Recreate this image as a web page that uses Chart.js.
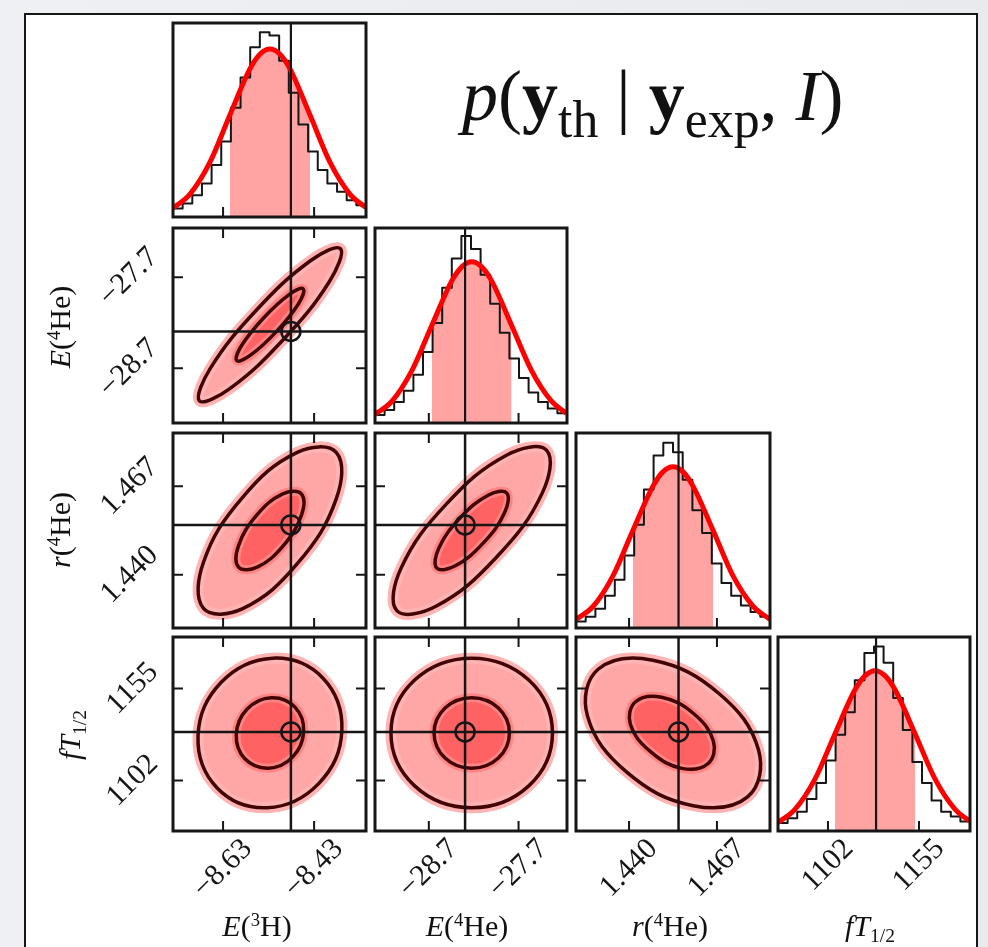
<!DOCTYPE html>
<html>
<head>
<meta charset="utf-8">
<script src="https://cdn.jsdelivr.net/npm/chart.js@4.4.1/dist/chart.umd.min.js"></script>
<style>
  html, body { margin: 0; padding: 0; }
  body { width: 988px; height: 947px; position: relative; overflow: hidden;
         background: linear-gradient(90deg, #eef0f3 0%, #e8eaee 100%);
         font-family: "Liberation Serif", "DejaVu Serif", serif; color: #111; }
  #sheet { position: absolute; left: 24px; top: 13px; width: 954px; height: 960px;
           background: #fff; border: 2px solid #161616; box-sizing: border-box; }
  #plots canvas { position: absolute; left: 0; top: 0; }
  .axt { position: absolute; font-size: 30px; white-space: nowrap; line-height: 1;
         transform: translate(-50%, -50%); }
  .axt.rot { transform: translate(-50%, -50%) rotate(-90deg); }
  .axt sup { font-size: 0.62em; vertical-align: baseline; position: relative; top: -0.55em; }
  .axt sub { font-size: 0.65em; vertical-align: baseline; position: relative; top: 0.3em; }
  #title { position: absolute; left: 462px; top: 60px; font-size: 72px; line-height: 1; white-space: nowrap; }
  #title sub { font-size: 0.72em; vertical-align: baseline; position: relative; top: 0.33em; }
</style>
</head>
<body>
<div id="sheet"></div>
<div id="plots"></div>
<div id="title"><i>p</i>(<b>y</b><sub>th</sub> | <b>y</b><sub>exp</sub>, <i>I</i>)</div>
<div class="axt" style="left:257px;top:926px"><i>E</i>(<sup>3</sup>H)</div>
<div class="axt" style="left:467px;top:926px"><i>E</i>(<sup>4</sup>He)</div>
<div class="axt" style="left:670px;top:926px"><i>r</i>(<sup>4</sup>He)</div>
<div class="axt" style="left:870px;top:926px"><i>fT</i><sub>1/2</sub></div>
<div class="axt rot" style="left:60px;top:327px"><i>E</i>(<sup>4</sup>He)</div>
<div class="axt rot" style="left:60px;top:530px"><i>r</i>(<sup>4</sup>He)</div>
<div class="axt rot" style="left:70px;top:735px"><i>fT</i><sub>1/2</sub></div>
<script>
// ---- values ----
// order of variables: E(3H), E(4He), r(4He), fT1/2
const axisMin = [-8.740, -29.30, 1.4237, 1072.9];
const axisMax = [-8.316, -27.16, 1.4833, 1184.7];
const tickValues = [[-8.63, -8.43], [-28.7, -27.7], [1.440, 1.467], [1102, 1155]];
const tickLabels = [['−8.63', '−8.43'], ['−28.7', '−27.7'], ['1.440', '1.467'], ['1102', '1155']];
const expValues = [-8.481, -28.296, 1.4552, 1130.0];

// marginal histograms: 20 equal bins over each axis, heights relative to the red curve peak
const histE3H  = [0.05, 0.08, 0.13, 0.20, 0.31, 0.45, 0.65, 0.83, 1.01, 1.10, 1.08, 0.93, 0.74, 0.55, 0.39, 0.28, 0.20, 0.15, 0.10, 0.07];
const histE4He = [0.05, 0.08, 0.13, 0.20, 0.30, 0.44, 0.62, 0.84, 1.02, 1.16, 1.08, 0.92, 0.74, 0.56, 0.40, 0.28, 0.19, 0.13, 0.09, 0.06];
const histR4He = [0.04, 0.07, 0.12, 0.20, 0.30, 0.45, 0.64, 0.86, 1.07, 1.15, 1.09, 0.92, 0.73, 0.59, 0.40, 0.28, 0.20, 0.14, 0.10, 0.07];
const histFT   = [0.05, 0.08, 0.12, 0.20, 0.30, 0.44, 0.60, 0.74, 0.94, 1.11, 1.15, 1.05, 0.83, 0.63, 0.43, 0.30, 0.19, 0.12, 0.09, 0.06];

// red marginal curves
const curveXE3H  = [-8.740, -8.703, -8.659, -8.615, -8.571, -8.549, -8.527, -8.505, -8.483, -8.439, -8.395, -8.351, -8.316];
const curveYE3H  = [0.053, 0.135, 0.325, 0.607, 0.882, 0.969, 1.0, 0.969, 0.882, 0.607, 0.325, 0.135, 0.056];
const curveXE4He = [-29.300, -29.111, -28.889, -28.666, -28.444, -28.333, -28.222, -28.111, -28.000, -27.778, -27.555, -27.333, -27.166];
const curveYE4He = [0.053, 0.135, 0.325, 0.607, 0.882, 0.969, 1.0, 0.969, 0.882, 0.607, 0.325, 0.135, 0.060];
const curveXR4He = [1.4237, 1.4290, 1.4351, 1.4412, 1.4474, 1.4504, 1.4535, 1.4566, 1.4596, 1.4658, 1.4719, 1.4781, 1.4833];
const curveYR4He = [0.053, 0.135, 0.325, 0.607, 0.882, 0.969, 1.0, 0.969, 0.882, 0.607, 0.325, 0.135, 0.053];
const curveXFT   = [1072.9, 1082.8, 1094.5, 1106.1, 1117.8, 1123.6, 1129.4, 1135.2, 1141.0, 1152.7, 1164.3, 1176.0, 1184.7];
const curveYFT   = [0.053, 0.135, 0.325, 0.607, 0.882, 0.969, 1.0, 0.969, 0.882, 0.607, 0.325, 0.135, 0.060];
// shaded interval under each curve
const shadeLo = [-8.615, -28.666, 1.4412, 1106.1];
const shadeHi = [-8.439, -27.778, 1.4658, 1152.7];
const diagMax = [1.155, 1.21, 1.21, 1.21];

// 2D contours (outer and inner level), points read around each outline
const contE3H_E4He_out = [[-8.372, -27.387], [-8.438, -27.519], [-8.557, -28.063], [-8.658, -28.700], [-8.682, -29.057], [-8.616, -28.925], [-8.497, -28.381], [-8.396, -27.744]];
const contE3H_E4He_in  = [[-8.454, -27.829], [-8.485, -27.891], [-8.541, -28.147], [-8.589, -28.447], [-8.600, -28.615], [-8.569, -28.553], [-8.513, -28.297], [-8.465, -27.997]];
const contE3H_R4He_out = [[-8.381, 1.4773], [-8.467, 1.4774], [-8.588, 1.4635], [-8.673, 1.4438], [-8.673, 1.4297], [-8.587, 1.4296], [-8.466, 1.4435], [-8.381, 1.4633]];
const contE3H_R4He_in  = [[-8.458, 1.4647], [-8.499, 1.4647], [-8.556, 1.4582], [-8.596, 1.4489], [-8.596, 1.4423], [-8.555, 1.4423], [-8.498, 1.4488], [-8.458, 1.4581]];
const contE4He_R4He_out = [[-27.387, 1.4780], [-27.829, 1.4766], [-28.500, 1.4617], [-29.009, 1.4420], [-29.057, 1.4290], [-28.615, 1.4304], [-27.944, 1.4454], [-27.435, 1.4650]];
const contE4He_R4He_in  = [[-27.833, 1.4650], [-28.039, 1.4643], [-28.352, 1.4573], [-28.589, 1.4481], [-28.611, 1.4420], [-28.405, 1.4427], [-28.092, 1.4497], [-27.856, 1.4589]];
const contE3H_FT_out = [[-8.411, 1161.1], [-8.521, 1172.5], [-8.634, 1158.6], [-8.685, 1127.7], [-8.643, 1097.7], [-8.533, 1086.3], [-8.420, 1100.2], [-8.369, 1131.1]];
const contE3H_FT_in  = [[-8.472, 1144.3], [-8.524, 1149.7], [-8.577, 1143.2], [-8.601, 1128.6], [-8.582, 1114.5], [-8.530, 1109.1], [-8.477, 1115.6], [-8.453, 1130.2]];
const contE4He_FT_out = [[-27.586, 1159.9], [-28.222, 1172.5], [-28.858, 1159.9], [-29.122, 1129.4], [-28.858, 1098.9], [-28.222, 1086.3], [-27.586, 1098.9], [-27.322, 1129.4]];
const contE4He_FT_in  = [[-27.925, 1143.8], [-28.222, 1149.7], [-28.519, 1143.8], [-28.642, 1129.4], [-28.519, 1115.0], [-28.222, 1109.1], [-27.925, 1115.0], [-27.802, 1129.4]];
const contR4He_FT_out = [[1.4677, 1152.0], [1.4473, 1171.3], [1.4305, 1166.1], [1.4272, 1139.4], [1.4393, 1106.8], [1.4597, 1087.5], [1.4765, 1092.7], [1.4798, 1119.4]];
const contR4He_FT_in  = [[1.4598, 1140.6], [1.4500, 1150.0], [1.4420, 1147.4], [1.4404, 1134.4], [1.4466, 1118.6], [1.4562, 1109.0], [1.4643, 1111.8], [1.4659, 1124.7]];

// ---- layout of the panel grid (pixels) ----
const colLeft = [173, 375, 576, 778];
const colRight = [366, 567, 770, 970];
const rowTop = [23, 228, 433, 637];
const rowBottom = [217, 423, 628, 831];
const W = 988, H = 947;

const ink = '#161616';

// frame, inward ticks and rotated tick labels
const decor = {
  id: 'decor',
  afterDraw(chart, args, o) {
    const {ctx, chartArea: a} = chart;
    const xs = chart.scales.x, ys = chart.scales.y;
    const T = 10;
    ctx.save();
    ctx.strokeStyle = ink;
    ctx.lineWidth = 2;
    ctx.beginPath();
    o.xTicks.forEach(v => {
      const p = xs.getPixelForValue(v);
      ctx.moveTo(p, a.bottom); ctx.lineTo(p, a.bottom - T);
      if (!o.diag) { ctx.moveTo(p, a.top); ctx.lineTo(p, a.top + T); }
    });
    o.yTicks.forEach(v => {
      const p = ys.getPixelForValue(v);
      ctx.moveTo(a.left, p); ctx.lineTo(a.left + T, p);
      ctx.moveTo(a.right, p); ctx.lineTo(a.right - T, p);
    });
    ctx.stroke();
    ctx.lineWidth = 3;
    ctx.strokeRect(a.left, a.top, a.right - a.left, a.bottom - a.top);

    ctx.fillStyle = ink;
    ctx.font = '30px "Liberation Serif"';
    ctx.textAlign = 'center';
    ctx.textBaseline = 'middle';
    const th = 21;
    const rot = (txt, cx, cy) => {
      ctx.save(); ctx.translate(cx, cy); ctx.rotate(-Math.PI / 4);
      ctx.fillText(txt, 0, 0); ctx.restore();
    };
    if (o.xLabels.length) o.xTicks.forEach((v, k) => {
      const s = (ctx.measureText(o.xLabels[k]).width + th) / Math.SQRT2;
      rot(o.xLabels[k], xs.getPixelForValue(v), a.bottom + 6 + s / 2);
    });
    if (o.yLabels.length) o.yTicks.forEach((v, k) => {
      const s = (ctx.measureText(o.yLabels[k]).width + th) / Math.SQRT2;
      rot(o.yLabels[k], a.left - 12 - s / 2, ys.getPixelForValue(v));
    });
    ctx.restore();
  }
};
Chart.register(decor);

function newCanvas() {
  const c = document.createElement('canvas');
  c.width = W; c.height = H;
  document.getElementById('plots').appendChild(c);
  return c;
}

function options(col, row, yMin, yMax, deco) {
  return {
    responsive: false, animation: false, devicePixelRatio: 1, events: [],
    layout: { padding: { left: colLeft[col], top: rowTop[row], right: W - colRight[col], bottom: H - rowBottom[row] } },
    elements: { point: { radius: 0 }, line: { borderJoinStyle: 'round' } },
    scales: {
      x: { type: 'linear', display: false, min: axisMin[col], max: axisMax[col] },
      y: { type: 'linear', display: false, min: yMin, max: yMax }
    },
    plugins: { legend: { display: false }, tooltip: { enabled: false }, decor: deco }
  };
}

// diagonal panels
const hists = [histE3H, histE4He, histR4He, histFT];
const curvesX = [curveXE3H, curveXE4He, curveXR4He, curveXFT];
const curvesY = [curveYE3H, curveYE4He, curveYR4He, curveYFT];

for (let i = 0; i < 4; i++) {
  const hist = hists[i];
  const bw = (axisMax[i] - axisMin[i]) / hist.length;
  const histPts = [];
  for (let k = 0; k <= hist.length; k++) {
    histPts.push({x: axisMin[i] + k * bw, y: hist[Math.min(k, hist.length - 1)]});
  }
  const curve = curvesX[i].map((x, k) => ({x: x, y: curvesY[i][k]}));
  const shade = curve.filter(p => p.x >= shadeLo[i] && p.x <= shadeHi[i]);
  new Chart(newCanvas(), {
    type: 'line',
    data: { datasets: [
      { data: [{x: expValues[i], y: 0}, {x: expValues[i], y: diagMax[i]}], borderColor: ink, borderWidth: 2.2, order: 0 },
      { data: curve, borderColor: '#ff0000', borderWidth: 5, cubicInterpolationMode: 'monotone', order: 1 },
      { data: histPts, borderColor: ink, borderWidth: 2, stepped: true, order: 2 },
      { data: shade, borderWidth: 0, backgroundColor: '#ffa3a3', fill: 'origin', cubicInterpolationMode: 'monotone', order: 3 }
    ] },
    options: options(i, i, 0, diagMax[i], {
      diag: true, xTicks: tickValues[i], yTicks: [],
      xLabels: i === 3 ? tickLabels[i] : [], yLabels: []
    })
  });
}

// off-diagonal panels
const pairs = [
  {col: 0, row: 1, outer: contE3H_E4He_out, inner: contE3H_E4He_in},
  {col: 0, row: 2, outer: contE3H_R4He_out, inner: contE3H_R4He_in},
  {col: 1, row: 2, outer: contE4He_R4He_out, inner: contE4He_R4He_in},
  {col: 0, row: 3, outer: contE3H_FT_out, inner: contE3H_FT_in},
  {col: 1, row: 3, outer: contE4He_FT_out, inner: contE4He_FT_in},
  {col: 2, row: 3, outer: contR4He_FT_out, inner: contR4He_FT_in}
];

// closed outline: repeat the wrap-around points so the curve stays smooth, hide the duplicated ends
function loop(pts) {
  const n = pts.length;
  return [pts[n - 1], ...pts, pts[0], pts[1]].map(p => ({x: p[0], y: p[1]}));
}
function hideEnds(len) {
  return { borderColor: ctx => (ctx.p0DataIndex === 0 || ctx.p1DataIndex === len - 1) ? 'rgba(0,0,0,0)' : undefined };
}

pairs.forEach(pr => {
  const {col, row} = pr;
  const outer = loop(pr.outer), inner = loop(pr.inner);
  const yMin = axisMin[row], yMax = axisMax[row];
  const ex = expValues[col], ey = expValues[row];
  new Chart(newCanvas(), {
    type: 'line',
    data: { datasets: [
      { data: [{x: ex, y: ey}], showLine: false, pointRadius: 9.5, pointBorderWidth: 2.5,
        pointBorderColor: ink, pointBackgroundColor: 'rgba(0,0,0,0)', order: 0 },
      { data: [{x: ex, y: yMin}, {x: ex, y: yMax}], borderColor: ink, borderWidth: 2.5, order: 1 },
      { data: [{x: axisMin[col], y: ey}, {x: axisMax[col], y: ey}], borderColor: ink, borderWidth: 2.5, order: 1 },
      { data: inner, borderColor: '#420404', borderWidth: 3.5, tension: 0.4, segment: hideEnds(inner.length), order: 2 },
      { data: outer, borderColor: '#420404', borderWidth: 3.5, tension: 0.4, segment: hideEnds(outer.length), order: 3 },
      { data: inner, fill: 'shape', backgroundColor: '#ff6262', borderColor: '#ff8585', borderWidth: 9,
        tension: 0.4, segment: hideEnds(inner.length), order: 4 },
      { data: outer, fill: 'shape', backgroundColor: '#ffa6a6', borderColor: '#ffb4b4', borderWidth: 11,
        tension: 0.4, segment: hideEnds(outer.length), order: 5 }
    ] },
    options: options(col, row, yMin, yMax, {
      diag: false, xTicks: tickValues[col], yTicks: tickValues[row],
      xLabels: row === 3 ? tickLabels[col] : [],
      yLabels: col === 0 ? tickLabels[row] : []
    })
  });
});
</script>
</body>
</html>
